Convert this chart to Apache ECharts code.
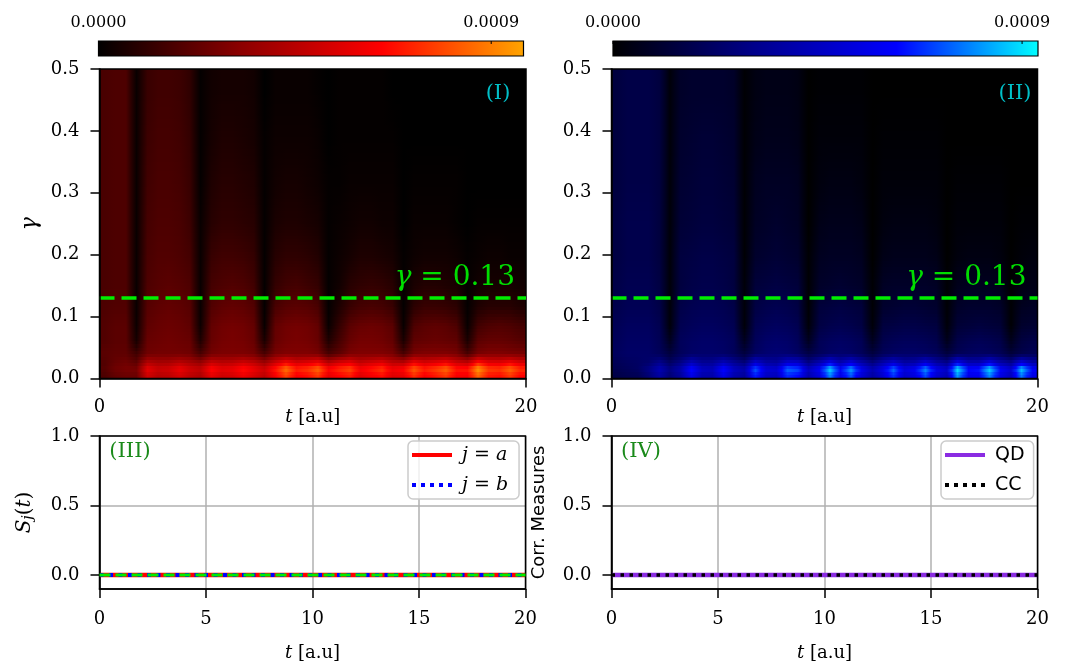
<!DOCTYPE html>
<html>
<head>
<meta charset="utf-8">
<script src="https://cdn.jsdelivr.net/npm/echarts@6/dist/echarts.min.js"></script>
<style>
  html, body { margin: 0; padding: 0; background: #ffffff; }
  #chart { width: 1068px; height: 663px; }
</style>
</head>
<body>
<div id="chart"></div>
<script>
// ---------------------------------------------------------------------------
// Heat maps: S_a and S_b over time t and damping gamma.
// Cells are bounded by tEdges (columns) and gammaEdges (rows, bottom to top).
// Cell values are in units of 1e-5.
// ---------------------------------------------------------------------------
const tEdges = [0, 0.5, 1, 1.5, 2, 2.5, 3, 3.5, 4, 4.5, 5, 5.5, 6, 6.5, 7, 7.5, 8, 8.5, 9, 9.5,
  10, 10.5, 11, 11.5, 12, 12.5, 13, 13.5, 14, 14.5, 15, 15.5, 16, 16.5, 17, 17.5, 18, 18.5, 19, 19.5, 20];
const gammaEdges = [0, 0.01, 0.02, 0.03, 0.05, 0.07, 0.10, 0.13, 0.17, 0.22, 0.28, 0.35, 0.42, 0.50];
const VALUE_UNIT = 1e-5;

const heatA = [
  [18,23,25,25,51,44,46,53,46,42,58,51,53,60,53,46,62,78,63,67,76,58,65,70,56,62,67,55,58,74,63,69,76,62,62,85,69,67,76,65],
  [20,26,28,28,58,50,52,60,52,48,66,58,60,68,60,52,70,88,72,76,86,66,74,80,64,70,76,62,66,84,72,78,86,70,70,96,78,76,86,74],
  [19,24,26,22,44,40,41,46,41,36,50,46,47,52,47,38,52,64,54,57,63,46,55,59,49,53,57,47,46,62,54,58,63,52,48,70,58,57,63,55],
  [21,22,22,15,26,27,27,27,26,17,27,29,29,29,27,17,28,30,30,30,28,17,22,29,30,30,30,28,17,28,30,30,30,28,17,28,30,30,29,28],
  [19,21,21,5,24,25,26,25,24,7,24,27,28,27,24,6,24,27,28,27,24,7,16,24,27,27,26,23,6,22,23,24,23,22,6,21,23,23,22,20],
  [19,21,21,3,22,24,25,24,22,3,23,26,27,26,23,2,23,26,27,26,23,2,12,21,24,25,24,21,2,18,21,22,21,18,2,15,18,19,18,16],
  [18,19,19,2,20,22,23,22,20,2,19,22,23,22,19,1,17,20,21,20,17,1,7,13,16,17,16,13,1,10,13,13,12,10,1,7,9,9,9,7],
  [17,18,18,2,18,20,21,20,18,2,16,18,19,18,15,1,12,15,16,14,12,1,4,9,11,12,11,9,1,6,8,8,7,6,1,4,5,5,5,4],
  [17,18,18,2,17,19,19,18,16,2,13,15,15,14,12,1,9,11,11,10,8,1,3,5,7,7,6,5,1,3,4,4,4,3,1,2,3,3,2,2],
  [17,18,18,2,16,18,18,17,14,2,9,11,11,10,9,1,6,7,7,6,5,1,2,3,4,4,3,3,0,2,2,2,2,1,0,1,1,1,1,1],
  [17,18,18,2,15,17,17,16,13,1,7,9,9,8,7,1,4,5,5,4,3,1,1,2,2,2,2,2,0,1,1,1,1,1,0,0,0,0,0,0],
  [17,18,18,2,14,16,16,15,12,1,5,7,7,6,5,1,3,3,3,3,2,0,1,1,1,1,1,1,0,0,0,0,0,0,0,0,0,0,0,0],
  [17,18,18,2,13,15,15,14,11,1,4,5,5,5,4,0,2,2,2,2,1,0,1,1,1,1,1,0,0,0,0,0,0,0,0,0,0,0,0,0]
];

const heatB = [
  [16,18,19,26,37,26,35,56,40,39,56,40,35,65,46,44,67,63,40,53,79,55,73,51,37,49,68,48,53,71,49,42,81,56,58,79,55,44,77,55],
  [18,20,22,30,42,30,40,64,46,44,64,46,40,74,52,50,76,72,46,60,90,62,83,58,42,56,77,54,60,81,56,48,92,64,66,90,62,50,88,62],
  [19,21,22,24,32,22,30,44,34,34,44,34,27,50,38,36,50,48,30,42,58,42,54,40,28,40,50,38,40,52,38,31,58,42,42,56,40,32,54,40],
  [21,23,23,23,20,14,20,23,24,24,23,20,14,22,25,26,25,22,16,20,23,24,23,20,14,20,22,23,23,22,20,14,19,21,22,21,19,13,17,19],
  [20,22,22,22,19,7,20,22,23,23,22,20,7,20,23,24,23,20,7,19,21,22,21,19,7,17,19,20,20,19,17,6,16,18,19,18,16,6,14,16],
  [19,21,21,21,18,2,18,20,21,21,20,18,2,18,20,21,20,18,2,15,17,18,17,15,2,14,15,16,16,15,14,2,12,13,14,13,12,1,10,11],
  [17,19,19,19,16,2,16,18,19,19,18,16,2,15,17,18,17,15,1,13,14,15,14,13,1,10,11,12,12,11,10,1,9,10,10,10,9,1,7,8],
  [16,18,18,18,15,2,14,16,17,17,16,14,2,13,14,15,14,13,1,9,10,11,10,9,1,8,9,9,9,9,8,1,6,7,7,7,6,0,4,5],
  [15,17,17,17,14,2,14,15,16,16,15,14,1,10,11,12,11,10,1,7,8,8,8,7,0,5,6,6,6,6,5,0,3,4,4,4,3,0,2,3],
  [15,17,17,17,14,2,12,13,14,14,13,12,1,8,9,10,9,8,0,5,6,6,6,5,0,3,4,4,4,4,3,0,2,2,2,2,2,0,1,1],
  [14,16,16,16,14,2,11,12,13,13,12,11,1,7,8,8,8,7,0,3,4,4,4,3,0,2,2,2,2,2,2,0,1,1,1,1,1,0,0,0],
  [14,16,16,16,14,2,10,11,12,12,11,10,1,5,6,6,6,5,0,2,2,2,2,2,0,1,1,1,1,1,1,0,0,0,0,0,0,0,0,0],
  [14,16,16,16,14,2,9,10,10,10,10,9,1,4,5,5,5,4,0,1,1,1,1,1,0,0,0,0,0,0,0,0,0,0,0,0,0,0,0,0]
];

// colour scale limits and colorbar ticks
const vmaxA = 0.000974;
const vmaxB = 0.000935;
const cbTicks = [0, 0.0009];
const cbTickLabels = ['0.0000', '0.0009'];
const gammaMark = 0.13;

// ---------------------------------------------------------------------------
// Line panels: S_j(t) and correlation measures at gamma = 0.13
// ---------------------------------------------------------------------------
const tLine = [0, 1, 2, 3, 4, 5, 6, 7, 8, 9, 10, 11, 12, 13, 14, 15, 16, 17, 18, 19, 20];
const sA  = [0, 0, 0, 0, 0, 0, 0, 0, 0, 0, 0, 0, 0, 0, 0, 0, 0, 0, 0, 0, 0];
const sB  = [0, 0, 0, 0, 0, 0, 0, 0, 0, 0, 0, 0, 0, 0, 0, 0, 0, 0, 0, 0, 0];
const sAB = [0, 0, 0, 0, 0, 0, 0, 0, 0, 0, 0, 0, 0, 0, 0, 0, 0, 0, 0, 0, 0];
const qd  = [0, 0, 0, 0, 0, 0, 0, 0, 0, 0, 0, 0, 0, 0, 0, 0, 0, 0, 0, 0, 0];
const cc  = [0, 0, 0, 0, 0, 0, 0, 0, 0, 0, 0, 0, 0, 0, 0, 0, 0, 0, 0, 0, 0];

// ---------------------------------------------------------------------------
const SERIF = 'DejaVu Serif';
const SANS = 'DejaVu Sans';
const mapA = ['#000000', '#8b0000', '#ff0000', '#ffa500'];
const mapB = ['#000000', '#00008b', '#0000ff', '#00ffff'];

function cells(rows) {
  const out = [];
  rows.forEach((row, j) => row.forEach((v, i) => {
    out.push([tEdges[i], tEdges[i + 1], gammaEdges[j], gammaEdges[j + 1], v * VALUE_UNIT]);
  }));
  return out;
}
function pairs(xs, ys) { return xs.map((x, i) => [x, ys[i]]); }

// Cells are painted in thin horizontal strips, each shaded towards the
// neighbouring cells (bilinear display smoothing, like an interpolated image).
function cellRenderer(rows, colors, vmax) {
  const nCol = tEdges.length - 1, nRow = rows.length;
  const gc = gammaEdges.slice(0, -1).map((g, j) => (g + gammaEdges[j + 1]) / 2);
  const shade = v => echarts.color.lerp(Math.max(0, Math.min(1, v * VALUE_UNIT / vmax)), colors);
  const at = (j, i) => rows[j][Math.max(0, Math.min(nCol - 1, i))];
  function valueAt(i, g) {
    if (g <= gc[0]) return at(0, i);
    if (g >= gc[nRow - 1]) return at(nRow - 1, i);
    let j = 0;
    while (gc[j + 1] < g) j++;
    const w = (g - gc[j]) / (gc[j + 1] - gc[j]);
    return at(j, i) * (1 - w) + at(j + 1, i) * w;
  }
  return function (params, api) {
    const i = params.dataIndex % nCol;
    const g0 = api.value(2), g1 = api.value(3);
    const a = api.coord([api.value(0), g1]);
    const b = api.coord([api.value(1), g0]);
    const x0 = Math.round(a[0]), x1 = Math.round(b[0]);
    const yTop = a[1], yBot = b[1];
    const k = Math.max(1, Math.round((yBot - yTop) / 3));
    const children = [];
    for (let s = 0; s < k; s++) {
      const ys0 = Math.round(yTop + (yBot - yTop) * s / k);
      const ys1 = Math.round(yTop + (yBot - yTop) * (s + 1) / k);
      const g = g1 - (g1 - g0) * (s + 0.5) / k;
      const vc = valueAt(i, g);
      const vl = (valueAt(i - 1, g) + vc) / 2;
      const vr = (valueAt(i + 1, g) + vc) / 2;
      children.push({
        type: 'rect',
        shape: { x: x0, y: ys0, width: x1 - x0, height: ys1 - ys0 },
        style: { fill: { type: 'linear', x: 0, y: 0, x2: 1, y2: 0, colorStops: [
          { offset: 0, color: shade(vl) }, { offset: 0.5, color: shade(vc) }, { offset: 1, color: shade(vr) }] } }
      });
    }
    return { type: 'group', children };
  };
}

const grids = [
  { left: 99.5, top: 69, width: 426.5, height: 309.5 },
  { left: 611.5, top: 69, width: 426, height: 309.5 },
  { left: 99.5, top: 436, width: 426, height: 155.5 },
  { left: 611.5, top: 436, width: 426, height: 155.5 }
].map(g => Object.assign({ show: true, borderColor: '#000', borderWidth: 1.5, backgroundColor: 'transparent', z: 5 }, g));

const axisLine = { show: true, onZero: false, lineStyle: { color: '#000', width: 1.5 } };
const axisTick = { show: true, inside: false, length: 9, lineStyle: { color: '#000', width: 1.5 } };
const tickFont = { color: '#000', fontFamily: SERIF, fontSize: 18 };
const tName = '{i|t} [a.u]';
const tNameStyle = { color: '#000', fontFamily: SERIF, fontSize: 18, rich: { i: { fontFamily: SERIF, fontStyle: 'italic', fontSize: 18 } } };

function xHeat(gi) {
  return { type: 'value', gridIndex: gi, min: 0, max: 20, interval: 20,
    axisLine, axisTick, splitLine: { show: false },
    axisLabel: Object.assign({ margin: 20 }, tickFont),
    name: tName, nameLocation: 'middle', nameGap: 30, nameMoveOverlap: false, nameTextStyle: tNameStyle, z: 6 };
}
function xLine(gi) {
  return { type: 'value', gridIndex: gi, min: 0, max: 20, interval: 5,
    axisLine, axisTick, splitLine: { show: true, lineStyle: { color: '#b0b0b0', width: 1.5 } },
    axisLabel: Object.assign({ margin: 21 }, tickFont),
    name: tName, nameLocation: 'middle', nameGap: 55, nameMoveOverlap: false, nameTextStyle: tNameStyle };
}
function yHeat(gi, name) {
  return { type: 'value', gridIndex: gi, min: 0, max: 0.5, interval: 0.1,
    axisLine, axisTick, splitLine: { show: false },
    axisLabel: Object.assign({ margin: 20, formatter: v => v.toFixed(1) }, tickFont),
    name: name, nameLocation: 'middle', nameGap: 58, nameRotate: 90, nameMoveOverlap: false,
    nameTextStyle: { color: '#000', fontFamily: SERIF, fontStyle: 'italic', fontSize: 22 }, z: 6 };
}
function yLine(gi, name, gap, nameStyle) {
  return { type: 'value', gridIndex: gi, min: -0.1, max: 1.0,
    axisLine, axisTick: Object.assign({ customValues: [0, 0.5, 1.0] }, axisTick),
    splitLine: { show: true, lineStyle: { color: '#b0b0b0', width: 1.5 } },
    axisLabel: Object.assign({ margin: 20, customValues: [0, 0.5, 1.0], formatter: v => v.toFixed(1) }, tickFont),
    name: name, nameLocation: 'middle', nameGap: gap, nameRotate: 90, nameMoveOverlap: false, nameTextStyle: nameStyle };
}

const sjStyle = { color: '#000', fontFamily: SERIF, fontSize: 20,
  rich: { i: { fontFamily: SERIF, fontStyle: 'italic', fontSize: 20 },
          s: { fontFamily: SERIF, fontStyle: 'italic', fontSize: 14, verticalAlign: 'bottom', padding: [8, 0, 0, 0] },
          n: { fontFamily: SERIF, fontSize: 20 } } };
const corrStyle = { color: '#000', fontFamily: SANS, fontSize: 18 };

function gammaMarkLine() {
  return {
    symbol: 'none', silent: true,
    lineStyle: { color: '#00ee00', width: 3.5, type: [15, 7] },
    label: {
      show: true, position: 'insideEndTop', distance: [11, 6],
      formatter: () => '{i|γ} = ' + gammaMark.toFixed(2),
      color: '#00dd00', fontFamily: SERIF, fontSize: 28,
      rich: { i: { fontFamily: SERIF, fontStyle: 'italic', fontSize: 28, color: '#00dd00' } }
    },
    data: [{ yAxis: gammaMark }]
  };
}

// colorbar drawn above each heat map
function colorbar(x, y, w, h, colors, vmax) {
  const els = [{
    type: 'rect', shape: { x, y, width: w, height: h },
    style: { fill: { type: 'linear', x: 0, y: 0, x2: 1, y2: 0,
      colorStops: colors.map((c, i) => ({ offset: i / (colors.length - 1), color: c })) },
      stroke: '#000', lineWidth: 1.2 }
  }];
  cbTicks.forEach((v, i) => {
    const px = x + w * v / vmax;
    els.push({ type: 'line', shape: { x1: px, y1: y, x2: px, y2: y + 3 }, style: { stroke: '#000', lineWidth: 1 } });
    els.push({ type: 'text', x: px, y: 23, style: { text: cbTickLabels[i], fill: '#000', font: '16px "DejaVu Serif"', align: 'center', verticalAlign: 'middle' } });
  });
  return els;
}
function panelTag(x, y, text, color) {
  return { type: 'text', x, y, z: 20, style: { text, fill: color, font: '21px "DejaVu Serif"', align: 'center', verticalAlign: 'middle' } };
}

// legend samples: a solid bar and a row of square dots
const solidIcon = 'path://M0,0h40v4h-40z';
const dotIcon = 'path://M0,0h4v4h-4zM9,0h4v4h-4zM18,0h4v4h-4zM27,0h4v4h-4zM36,0h4v4h-4z';

function legendBox(left, padRight, names, icons, textStyle, formatter) {
  const lg = {
    data: names.map((n, k) => ({ name: n, icon: icons[k] })),
    orient: 'vertical', left, top: 441, itemWidth: 40, itemHeight: 4, itemGap: 10,
    padding: [4, padRight, 4, 4], backgroundColor: 'rgba(255,255,255,0.8)', borderColor: '#cccccc', borderWidth: 1.5, borderRadius: 5,
    itemStyle: { borderWidth: 0 }, lineStyle: { width: 0 },
    textStyle
  };
  if (formatter) lg.formatter = formatter;
  return lg;
}

const option = {
  animation: false,
  backgroundColor: '#ffffff',
  grid: grids,
  xAxis: [xHeat(0), xHeat(1), xLine(2), xLine(3)],
  yAxis: [
    yHeat(0, 'γ'), yHeat(1, ''),
    yLine(2, '{i|S}{s|j}{n|(}{i|t}{n|)}', 64, sjStyle),
    yLine(3, 'Corr. Measures', 63, corrStyle)
  ],
  legend: [
    legendBox(408, 11, ['j = a', 'j = b'], [solidIcon, dotIcon],
      { color: '#000', fontFamily: SERIF, fontSize: 19, lineHeight: 20, padding: [0, 0, 0, 5],
        rich: { i: { fontFamily: SERIF, fontStyle: 'italic', fontSize: 19, lineHeight: 20 } } },
      n => n === 'j = a' ? '{i|j} = {i|a}' : '{i|j} = {i|b}'),
    legendBox(941, 9, ['QD', 'CC'], [solidIcon, dotIcon],
      { color: '#000', fontFamily: SANS, fontSize: 19, lineHeight: 20, padding: [0, 0, 0, 5] })
  ],
  graphic: [
    ...colorbar(98.5, 41, 425, 15, mapA, vmaxA),
    ...colorbar(613, 41, 425, 15, mapB, vmaxB),
    panelTag(498, 94, '(I)', '#00c0c8'),
    panelTag(1015, 94, '(II)', '#00c0c8'),
    panelTag(130, 452, '(III)', '#1a8a1a'),
    panelTag(641, 452, '(IV)', '#1a8a1a')
  ],
  series: [
    { type: 'custom', name: 'Sa map', xAxisIndex: 0, yAxisIndex: 0, data: cells(heatA),
      renderItem: cellRenderer(heatA, mapA, vmaxA),
      encode: { x: [0, 1], y: [2, 3] }, clip: true, silent: true, markLine: gammaMarkLine() },
    { type: 'custom', name: 'Sb map', xAxisIndex: 1, yAxisIndex: 1, data: cells(heatB),
      renderItem: cellRenderer(heatB, mapB, vmaxB),
      encode: { x: [0, 1], y: [2, 3] }, clip: true, silent: true, markLine: gammaMarkLine() },
    { type: 'line', name: 'j = a', xAxisIndex: 2, yAxisIndex: 2, data: pairs(tLine, sA), symbol: 'none',
      lineStyle: { color: '#ff0000', width: 4.5 }, itemStyle: { color: '#ff0000' }, z: 3 },
    { type: 'line', name: 'j = b', xAxisIndex: 2, yAxisIndex: 2, data: pairs(tLine, sB), symbol: 'none',
      lineStyle: { color: '#0000ff', width: 4, type: [4, 5.5] }, itemStyle: { color: '#0000ff' }, z: 4 },
    { type: 'line', name: 'a+b', xAxisIndex: 2, yAxisIndex: 2, data: pairs(tLine, sAB), symbol: 'none',
      lineStyle: { color: '#00ee00', width: 3, type: [11, 5] }, itemStyle: { color: '#00ee00' }, z: 5 },
    { type: 'line', name: 'QD', xAxisIndex: 3, yAxisIndex: 3, data: pairs(tLine, qd), symbol: 'none',
      lineStyle: { color: '#8a2be2', width: 4.5 }, itemStyle: { color: '#8a2be2' }, z: 3 },
    { type: 'line', name: 'CC', xAxisIndex: 3, yAxisIndex: 3, data: pairs(tLine, cc), symbol: 'none',
      lineStyle: { color: '#000000', width: 3.5, type: [3.5, 5.5] }, itemStyle: { color: '#000000' }, z: 4 }
  ]
};

const chart = echarts.init(document.getElementById('chart'), null, { renderer: 'canvas' });
chart.setOption(option);
</script>
</body>
</html>
